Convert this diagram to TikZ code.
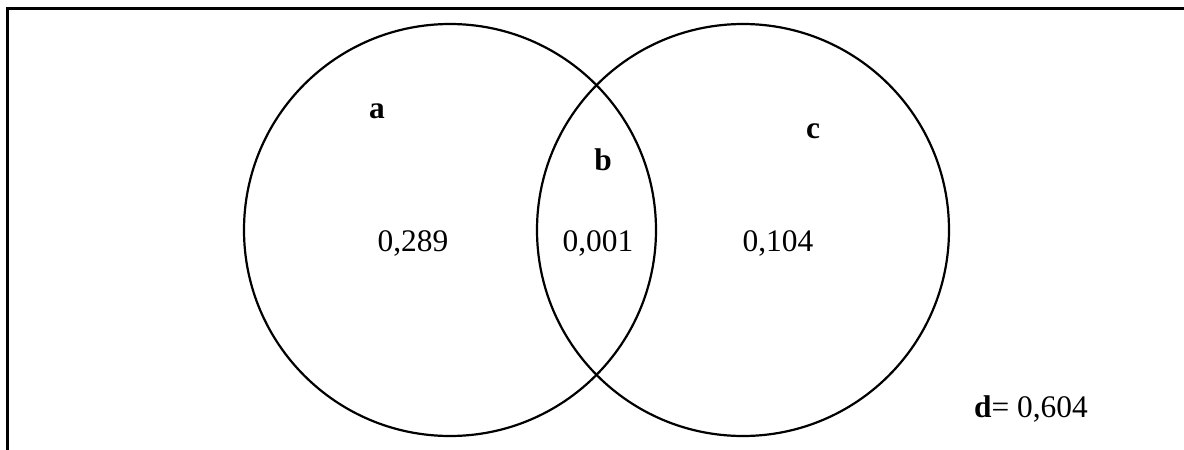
\documentclass[tikz,border=0pt]{standalone}
\usepackage{fontspec}
\setmainfont{Liberation Serif}
\usetikzlibrary{positioning}
\definecolor{ink}{HTML}{000000}
\tikzset{
  setcircle/.style={draw=ink, circle, line width=1.1pt, minimum size=206pt, inner sep=0pt},
  setname/.style={inner sep=0pt, font=\fontsize{15.7}{18}\selectfont\bfseries},
  setvalue/.style={inner sep=0pt, font=\fontsize{15.7}{18}\selectfont},
  frame/.style={draw=ink, line width=1.5pt}
}

\begin{document}
\begin{tikzpicture}[x=0.5pt, y=-0.5pt]
  \useasboundingbox (0,0) rectangle (1184,450);
  \draw[frame] (7,460) -- (7,8) -- (1200,8);

  \node[setcircle] (setA) at (450,230) {};
  \node[setcircle] (setC) at (743,230) {};

  \node[setname] (nameA) at (377,111) {a};
  \node[setname] (nameB) at (603,160) {b};
  \node[setname] (nameC) at (813,131) {c};

  \node[setvalue] (valA) at (413,243) {0,289};
  \node[setvalue] (valB) at (598,243) {0,001};
  \node[setvalue] (valC) at (778,243) {0,104};
  \node[setvalue] (valD) at (1031,409) {\textbf{d}= 0,604};
\end{tikzpicture}
\end{document}
